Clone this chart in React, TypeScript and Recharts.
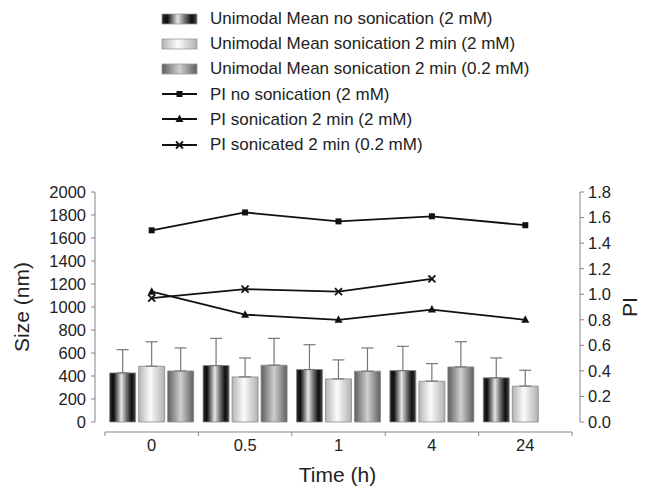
import { Bar, ComposedChart, ErrorBar, Legend, Line, XAxis, YAxis } from "recharts";

const times = ["0", "0.5", "1", "4", "24"];

const meanNoSon = [427, 491, 456, 447, 384];
const meanNoSonErr = [202, 236, 216, 211, 173];
const meanSon2 = [485, 392, 375, 355, 312];
const meanSon2Err = [213, 165, 165, 153, 138];
const meanSon02 = [444, 494, 442, 479, null];
const meanSon02Err = [200, 233, 202, 219, null];

const piNoSon = [1.5, 1.64, 1.57, 1.61, 1.54];
const piSon2 = [1.02, 0.84, 0.8, 0.88, 0.8];
const piSon02 = [0.97, 1.04, 1.02, 1.12, null];

const sizeTicks = [0, 200, 400, 600, 800, 1000, 1200, 1400, 1600, 1800, 2000];
const piTicks = [0, 0.2, 0.4, 0.6, 0.8, 1.0, 1.2, 1.4, 1.6, 1.8];

const seriesNames = [
  "Unimodal Mean no sonication (2 mM)",
  "Unimodal Mean sonication 2 min (2 mM)",
  "Unimodal Mean sonication 2 min (0.2 mM)",
  "PI no sonication (2 mM)",
  "PI sonication 2 min (2 mM)",
  "PI sonicated 2 min (0.2 mM)",
];

const data = times.map((t, i) => ({
  time: t,
  noSon: meanNoSon[i],
  noSonErr: [0, meanNoSonErr[i]],
  son2: meanSon2[i],
  son2Err: [0, meanSon2Err[i]],
  son02: meanSon02[i],
  son02Err: meanSon02Err[i] == null ? null : [0, meanSon02Err[i]],
  piNoSon: piNoSon[i],
  piSon2: piSon2[i],
  piSon02: piSon02[i],
}));

const W = 646;
const H = 487;
const LEFT_W = 95;
const RIGHT_W = 66;
const PAD_L = 10;
const PAD_R = 8;
const BAND = (W - LEFT_W - RIGHT_W - PAD_L - PAD_R) / times.length;
const AXIS = "#858585";
const TEXT = "#222";
const LINE = "#111";

function Marker({ cx, cy, kind }: { cx: number; cy: number; kind: string }) {
  if (cx == null || cy == null) return null;
  if (kind === "square") return <rect x={cx - 3} y={cy - 3} width={6} height={6} fill={LINE} />;
  if (kind === "triangle")
    return <polygon points={`${cx},${cy - 4.5} ${cx + 4},${cy + 3} ${cx - 4},${cy + 3}`} fill={LINE} />;
  return (
    <g stroke={LINE} strokeWidth={1.8}>
      <line x1={cx - 3.5} y1={cy - 3.5} x2={cx + 3.5} y2={cy + 3.5} />
      <line x1={cx - 3.5} y1={cy + 3.5} x2={cx + 3.5} y2={cy - 3.5} />
    </g>
  );
}

const dotFor = (kind: string) => (p: any) => <Marker key={`${kind}-${p.index}`} cx={p.cx} cy={p.cy} kind={kind} />;

// excel-style axis: line sits below the zero line, ticks at category boundaries
const XTick = ({ x, y, payload, index }: any) => {
  const half = BAND / 2;
  const ly = y + 10;
  return (
    <g>
      <line x1={x - half} x2={x + half} y1={ly} y2={ly} stroke={AXIS} strokeWidth={1.2} />
      <line x1={x - half} x2={x - half} y1={ly} y2={ly + 4} stroke={AXIS} />
      {index === times.length - 1 && <line x1={x + half} x2={x + half} y1={ly} y2={ly + 4} stroke={AXIS} />}
      <text x={x} y={y + 29} textAnchor="middle" fontSize={16.5} fill={TEXT}>
        {payload.value}
      </text>
    </g>
  );
};

const swatches = ["url(#gDark)", "url(#gLight)", "url(#gMid)"];
const markers = ["square", "triangle", "cross"];

const LegendBox = () => (
  <div style={{ fontSize: 17, color: TEXT, lineHeight: "25.2px" }}>
    {seriesNames.map((name, i) => (
      <div key={name} style={{ display: "flex", alignItems: "center", height: 25.2 }}>
        <svg width={50} height={14} style={{ flex: "none" }}>
          {i < 3 ? (
            <rect x={2} y={2} width={35} height={10} fill={swatches[i]} stroke="#999" strokeWidth={0.8} />
          ) : (
            <g>
              <line x1={2} x2={37} y1={7} y2={7} stroke={LINE} strokeWidth={1.8} />
              <Marker cx={19.5} cy={7} kind={markers[i - 3]} />
            </g>
          )}
        </svg>
        <span style={{ whiteSpace: "nowrap" }}>{name}</span>
      </div>
    ))}
  </div>
);

export default function App() {
  return (
    <div style={{ position: "absolute", left: 0, top: 0, fontFamily: "'Liberation Sans', Arial, sans-serif" }}>
      <ComposedChart
        width={W}
        height={H}
        data={data}
        margin={{ top: 192, right: 0, bottom: 0, left: 0 }}
        barCategoryGap="5%"
        barGap={3}
      >
        <defs>
          <linearGradient id="gDark" x1="0" y1="0" x2="1" y2="0">
            <stop offset="0" stopColor="#2a2a2a" />
            <stop offset="0.15" stopColor="#0d0d0d" />
            <stop offset="0.45" stopColor="#e6e6e6" />
            <stop offset="0.65" stopColor="#707070" />
            <stop offset="0.85" stopColor="#0d0d0d" />
            <stop offset="1" stopColor="#4a4a4a" />
          </linearGradient>
          <linearGradient id="gLight" x1="0" y1="0" x2="1" y2="0">
            <stop offset="0" stopColor="#b4b4b4" />
            <stop offset="0.45" stopColor="#fbfbfb" />
            <stop offset="1" stopColor="#b0b0b0" />
          </linearGradient>
          <linearGradient id="gMid" x1="0" y1="0" x2="1" y2="0">
            <stop offset="0" stopColor="#5e5e5e" />
            <stop offset="0.5" stopColor="#cfcfcf" />
            <stop offset="1" stopColor="#5e5e5e" />
          </linearGradient>
        </defs>
        <XAxis
          dataKey="time"
          height={65}
          padding={{ left: PAD_L, right: PAD_R }}
          axisLine={false}
          tickLine={false}
          tickSize={0}
          tickMargin={0}
          interval={0}
          tick={XTick}
          label={{ value: "Time (h)", position: "center", dy: 20, fontSize: 21, fill: TEXT }}
        />
        <YAxis
          yAxisId="size"
          width={LEFT_W}
          domain={[0, 2000]}
          ticks={sizeTicks}
          interval={0}
          stroke={AXIS}
          tickSize={4}
          tickMargin={5}
          tick={{ fontSize: 16.5, fill: TEXT }}
          label={{ value: "Size (nm)", angle: -90, position: "center", dx: -26, fontSize: 21, fill: TEXT }}
        />
        <YAxis
          yAxisId="pi"
          orientation="right"
          width={RIGHT_W}
          domain={[0, 1.8]}
          ticks={piTicks}
          interval={0}
          stroke={AXIS}
          tickSize={4}
          tickMargin={4}
          tickFormatter={(v: number) => v.toFixed(1)}
          tick={{ fontSize: 16.5, fill: TEXT }}
          label={{ value: "PI", angle: -90, position: "center", dx: 17, fontSize: 21, fill: TEXT }}
        />
        <Legend
          layout="vertical"
          verticalAlign="middle"
          align="center"
          wrapperStyle={{ top: 6, left: 160, width: 420, height: 152 }}
          content={() => <LegendBox />}
        />
        <Bar yAxisId="size" dataKey="noSon" name={seriesNames[0]} fill="url(#gDark)" stroke="#888" strokeWidth={0.8} isAnimationActive={false}>
          <ErrorBar dataKey="noSonErr" direction="y" width={6} stroke="#777" strokeWidth={1.2} />
        </Bar>
        <Bar yAxisId="size" dataKey="son2" name={seriesNames[1]} fill="url(#gLight)" stroke="#888" strokeWidth={0.8} isAnimationActive={false}>
          <ErrorBar dataKey="son2Err" direction="y" width={6} stroke="#777" strokeWidth={1.2} />
        </Bar>
        <Bar yAxisId="size" dataKey="son02" name={seriesNames[2]} fill="url(#gMid)" stroke="#888" strokeWidth={0.8} isAnimationActive={false}>
          <ErrorBar dataKey="son02Err" direction="y" width={6} stroke="#777" strokeWidth={1.2} />
        </Bar>
        <Line yAxisId="pi" dataKey="piNoSon" name={seriesNames[3]} stroke={LINE} strokeWidth={1.8} dot={dotFor("square")} isAnimationActive={false} />
        <Line yAxisId="pi" dataKey="piSon2" name={seriesNames[4]} stroke={LINE} strokeWidth={1.8} dot={dotFor("triangle")} isAnimationActive={false} />
        <Line yAxisId="pi" dataKey="piSon02" name={seriesNames[5]} stroke={LINE} strokeWidth={1.8} dot={dotFor("cross")} isAnimationActive={false} />
      </ComposedChart>
    </div>
  );
}
